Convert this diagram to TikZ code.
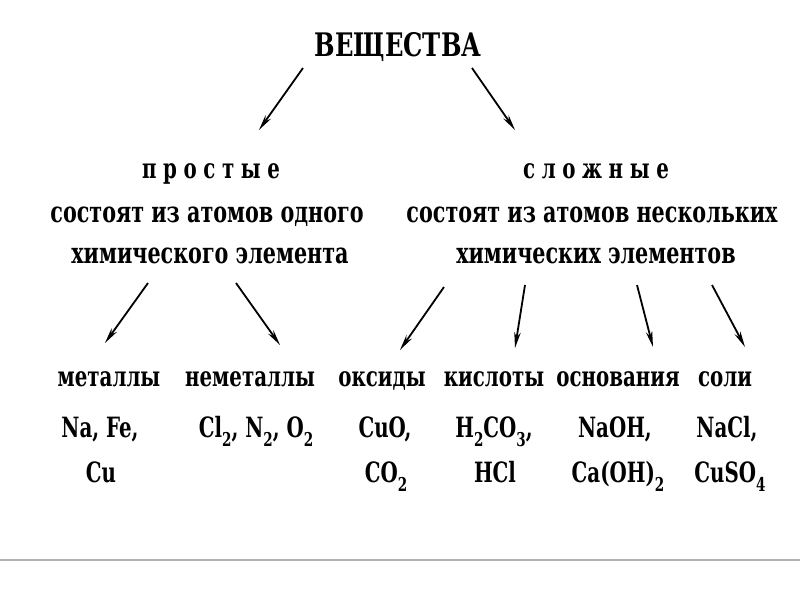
\documentclass[tikz,border=0pt]{standalone}
\usepackage{fontspec}
\setmainfont{DejaVu Serif Condensed}
\usetikzlibrary{arrows.meta}
\newcommand\vs[1]{\scalebox{1}[1.27]{#1}}
\newcommand\sbs[1]{\raisebox{-7.5pt}{\fontsize{15}{15}\selectfont #1}}
\begin{document}
\begin{tikzpicture}[x=1pt,y=-1pt,
  txt/.style={inner sep=0pt, anchor=base, font=\fontsize{22}{26}\selectfont\bfseries},
  sent/.style={inner sep=0pt, anchor=base, font=\fontsize{23}{26}\selectfont\bfseries},
  ttl/.style={inner sep=0pt, anchor=base, font=\fontsize{27}{32}\selectfont\bfseries},
  spaced/.style={inner sep=0pt, anchor=base, font=\fontsize{22}{26}\selectfont\bfseries\addfontfeature{LetterSpace=30}},
  arr/.style={line width=1.8pt, -{Stealth[length=16pt,width=6.5pt]}},
  sep/.style={draw=black!30, line width=1.2pt}]
\useasboundingbox (0,0) rectangle (800,600);
\fill[white] (0,0) rectangle (800,600);
\node[ttl] (top) at (398,56) {\scalebox{1}[1.2]{ВЕЩЕСТВА}};
\node[spaced] (pr) at (211,178) {\vs{простые}};
\node[sent] (pr1) at (207,222) {\vs{состоят из атомов одного}};
\node[sent] (pr2) at (210,263) {\vs{химического элемента}};
\node[spaced] (sl) at (596,178) {\vs{сложные}};
\node[sent] (sl1) at (592,222) {\vs{состоят из атомов нескольких}};
\node[sent] (sl2) at (596,263) {\vs{химических элементов}};
\node[txt] (met) at (109,386) {\vs{металлы}};
\node[txt] (nmet) at (250,386) {\vs{неметаллы}};
\node[txt] (ox) at (382,386) {\vs{оксиды}};
\node[txt] (ac) at (494,386) {\vs{кислоты}};
\node[txt] (bas) at (618,386) {\vs{основания}};
\node[txt] (sal) at (725,386) {\vs{соли}};
\node[txt] (f1) at (100,437) {\vs{Na, Fe,}};
\node[txt] (f2) at (256,437) {\vs{Cl\sbs{2}, N\sbs{2}, O\sbs{2}}};
\node[txt] (f3) at (385,437) {\vs{CuO,}};
\node[txt] (f4) at (494,437) {\vs{H\sbs{2}CO\sbs{3},}};
\node[txt] (f5) at (615,437) {\vs{NaOH,}};
\node[txt] (f6) at (727,437) {\vs{NaCl,}};
\node[txt] (g1) at (101,482) {\vs{Cu}};
\node[txt] (g3) at (386,482) {\vs{CO\sbs{2}}};
\node[txt] (g4) at (495,482) {\vs{HCl}};
\node[txt] (g5) at (618,482) {\vs{Ca(OH)\sbs{2}}};
\node[txt] (g6) at (730,482) {\vs{CuSO\sbs{4}}};
\draw[arr] ([shift={(-95,12)}]top.base) -- ([shift={(48,-48)}]pr.base);
\draw[arr] ([shift={(74,12)}]top.base) -- ([shift={(-81,-48)}]sl.base);
\draw[arr] ([shift={(-62,20)}]pr2.base) -- ([shift={(-4,-43)}]met.base);
\draw[arr] ([shift={(26,20)}]pr2.base) -- ([shift={(30,-41)}]nmet.base);
\draw[arr] ([shift={(-152,24)}]sl2.base) -- ([shift={(18,-36)}]ox.base);
\draw[arr] ([shift={(-71,22)}]sl2.base) -- ([shift={(21,-38)}]ac.base);
\draw[arr] ([shift={(41,22)}]sl2.base) -- ([shift={(35,-39)}]bas.base);
\draw[arr] ([shift={(116,22)}]sl2.base) -- ([shift={(20,-39)}]sal.base);
\coordinate (la) at (0,560);
\coordinate (lb) at (800,560);
\draw[sep] (la) -- (lb);
\end{tikzpicture}
\end{document}
